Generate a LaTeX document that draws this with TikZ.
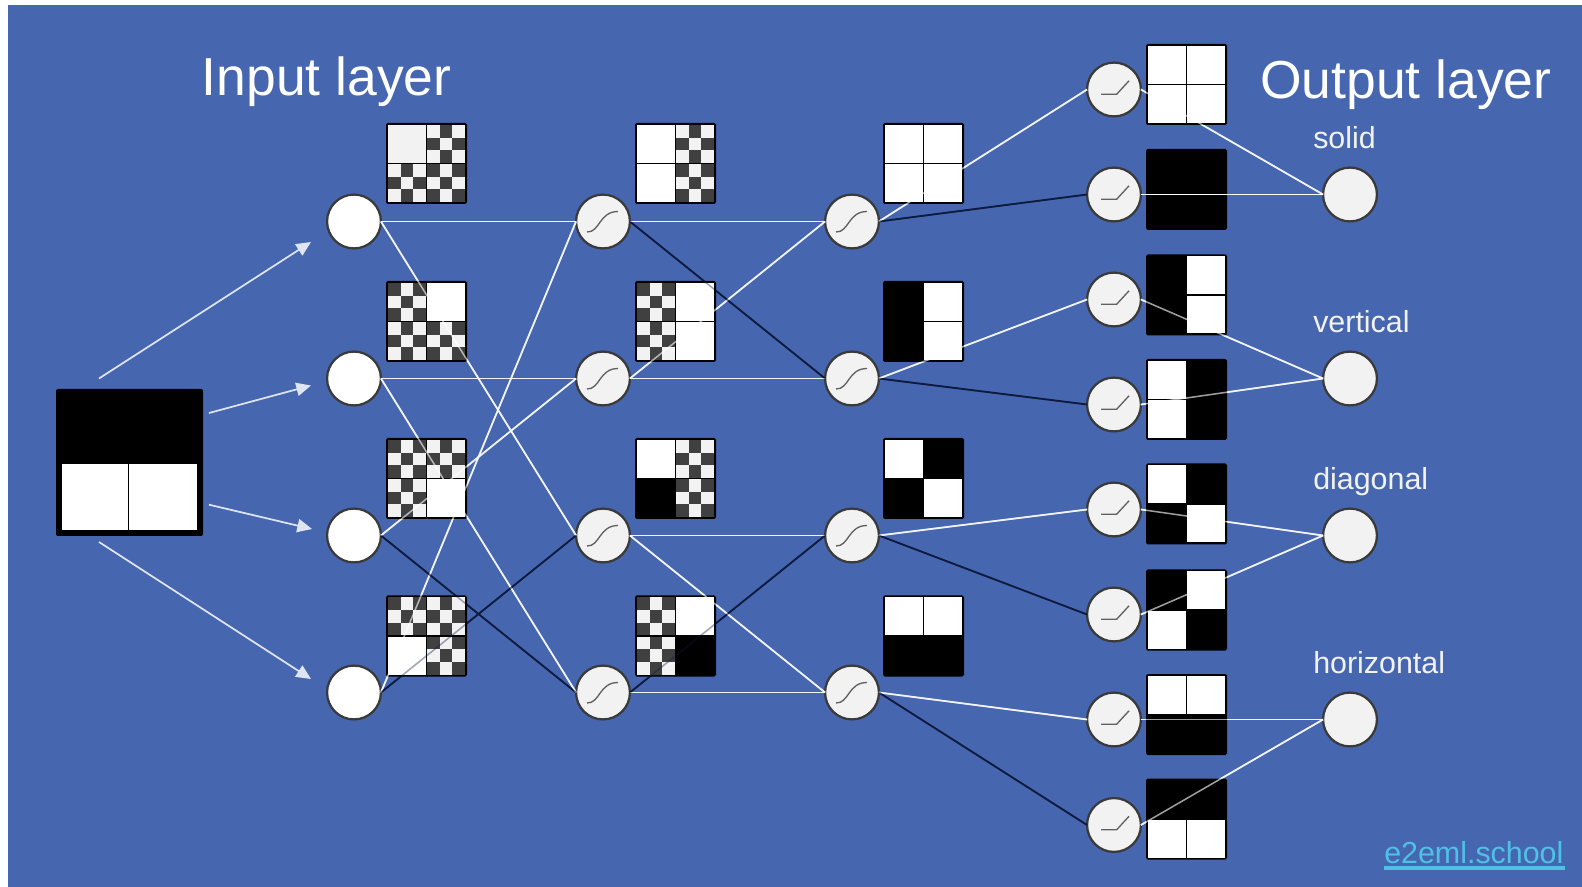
\documentclass[tikz,border=0pt]{standalone}
\usepackage{fontspec}
\setmainfont{Liberation Sans}
\usetikzlibrary{arrows.meta}
\definecolor{bgblue}{HTML}{4667B0}
\definecolor{lite}{HTML}{F2F2F2}
\definecolor{dk}{HTML}{404040}
\definecolor{navy}{HTML}{0E1B3E}
\definecolor{edge}{HTML}{3A3A3A}
\definecolor{linkc}{HTML}{4FC0E6}
\tikzset{
  inputnode/.style={circle,draw=edge,line width=1.7pt,fill=white,minimum size=40.4pt,inner sep=0pt,outer sep=0pt},
  hiddennode/.style={inputnode,fill=lite},
  wline/.style={draw=white!82!bgblue,line width=1.3pt},
  dline/.style={draw=navy,line width=1.35pt},
  wover/.style={draw=white,line width=1.15pt,opacity=.62},
  dover/.style={draw=navy,line width=1.2pt,opacity=.38},
  sym/.style={draw=black!62,line width=1pt},
  arrowline/.style={draw=white!82!bgblue,line width=1.3pt,-{Triangle[length=11pt,width=10pt]}},
  bigtitle/.style={text=white,anchor=base west,inner sep=0pt,font=\fontsize{40.1pt}{44pt}\selectfont},
  smalltitle/.style={text=lite,anchor=base west,inner sep=0pt,font=\fontsize{22.8pt}{26pt}\selectfont},
  linktext/.style={text=linkc,anchor=base west,inner sep=0pt,font=\fontsize{22.8pt}{26pt}\selectfont},
}
\newcommand{\myq}{37.75}
\newcommand{\chk}[3]{%
  \fill[lite] (#1,#2) rectangle ++(\myq,\myq);
  \foreach \r in {0,1,2}{\foreach \c in {0,1,2}{%
    \pgfmathtruncatemacro\myp{mod(\r+\c+#3,2)}%
    \ifnum\myp=1 \fill[dk] ({#1+\c*\myq/3},{#2+\r*\myq/3}) rectangle ++({\myq/3},{\myq/3});\fi
  }}%
}
% quadrant: x, y, code W white, G light, B black, A checker light first, C checker dark first
\newcommand{\quadr}[3]{%
  \if#3W\fill[white] (#1,#2) rectangle ++(\myq,\myq);\fi
  \if#3G\fill[lite] (#1,#2) rectangle ++(\myq,\myq);\fi
  \if#3B\fill[black] (#1,#2) rectangle ++(\myq,\myq);\fi
  \if#3A\chk{#1}{#2}{0}\fi
  \if#3C\chk{#1}{#2}{1}\fi
}
\newcommand{\patch}[6]{%
  \begin{scope}[shift={(#1,#2)}]
    \fill[black,rounded corners=1.2pt] (0,0) rectangle (81,81);
    \quadr{2}{2}{#3}
    \quadr{41.25}{2}{#4}
    \quadr{2}{41.25}{#5}
    \quadr{41.25}{41.25}{#6}
  \end{scope}
}
\newcommand{\wlinks}{I1/H1,I1/H3,I2/H2,I2/H4,I3/H2,I4/H1,H1/J1,H2/J2,H2/J1,H3/J3,H3/J4,H4/J4,J1/K1,J2/K3,J3/K5,J4/K7}
\newcommand{\dlinks}{I3/H4,I4/H3,H1/J2,H4/J3,J1/K2,J2/K4,J3/K6,J4/K8}
\newcommand{\olinks}{K1/O1,K2/O1,K3/O2,K4/O2,K5/O3,K6/O3,K7/O4,K8/O4}
\begin{document}
\begin{tikzpicture}[x=.75pt,y=-.75pt]
\useasboundingbox (0,0) rectangle (1582,887);
\fill[white] (0,0) rectangle (1582,887);
\fill[bgblue] (8,5) rectangle (1582,887);

% circles
\node[inputnode] (I1) at (354,221.5) {};
\node[inputnode] (I2) at (354,378.5) {};
\node[inputnode] (I3) at (354,535.5) {};
\node[inputnode] (I4) at (354,692.5) {};
\node[hiddennode] (H1) at (603,221.5) {};
\node[hiddennode] (H2) at (603,378.5) {};
\node[hiddennode] (H3) at (603,535.5) {};
\node[hiddennode] (H4) at (603,692.5) {};
\node[hiddennode] (J1) at (852,221.5) {};
\node[hiddennode] (J2) at (852,378.5) {};
\node[hiddennode] (J3) at (852,535.5) {};
\node[hiddennode] (J4) at (852,692.5) {};
\node[hiddennode] (K1) at (1114,89.5) {};
\node[hiddennode] (K2) at (1114,194.5) {};
\node[hiddennode] (K3) at (1114,299.5) {};
\node[hiddennode] (K4) at (1114,404.5) {};
\node[hiddennode] (K5) at (1114,509.5) {};
\node[hiddennode] (K6) at (1114,614.5) {};
\node[hiddennode] (K7) at (1114,719.5) {};
\node[hiddennode] (K8) at (1114,825) {};
\node[hiddennode] (O1) at (1350,194.5) {};
\node[hiddennode] (O2) at (1350,378.5) {};
\node[hiddennode] (O3) at (1350,535.5) {};
\node[hiddennode] (O4) at (1350,719.5) {};

% connectors under the patches
\foreach \a/\b in \wlinks {\draw[wline] (\a.east) -- (\b.west);}
\foreach \a/\b in \olinks {\draw[wline] (\a.east) -- (\b.west);}
\foreach \a/\b in \dlinks {\draw[dline] (\a.east) -- (\b.west);}

% patches
\patch{386}{123}{G}{A}{A}{C}
\patch{386}{281}{C}{W}{A}{C}
\patch{386}{438}{C}{A}{A}{W}
\patch{386}{595.5}{C}{A}{W}{C}
\patch{635}{123}{W}{A}{W}{C}
\patch{635}{281}{C}{W}{A}{W}
\patch{635}{438}{W}{A}{B}{C}
\patch{635}{595.5}{C}{W}{A}{B}
\patch{883}{123}{W}{W}{W}{W}
\patch{883}{281}{B}{W}{B}{W}
\patch{883}{438}{W}{B}{B}{W}
\patch{883}{595.5}{W}{W}{B}{B}
\patch{1146}{44}{W}{W}{W}{W}
\patch{1146}{149}{B}{B}{B}{B}
\patch{1146}{254.5}{B}{W}{B}{W}
\patch{1146}{359}{W}{B}{W}{B}
\patch{1146}{463.5}{W}{B}{B}{W}
\patch{1146}{569.5}{B}{W}{W}{B}
\patch{1146}{674}{W}{W}{B}{B}
\patch{1146}{778.5}{B}{B}{W}{W}

% connectors seen faintly across the patches
\foreach \a/\b in \wlinks {\draw[wover] (\a.east) -- (\b.west);}
\foreach \a/\b in \olinks {\draw[wover] (\a.east) -- (\b.west);}
\foreach \a/\b in \dlinks {\draw[dover] (\a.east) -- (\b.west);}
\draw[draw=white,line width=1.15pt] (K2.east) -- (O1.west);

% activation symbols
\foreach \n in {H1,H2,H3,H4,J1,J2,J3,J4}{
  \begin{scope}[shift={(\n.center)}]
    \draw[sym] (-16,10.5) .. controls (-3,11) and (-4,-10) .. (15,-10);
  \end{scope}
}
\foreach \n in {K1,K2,K3,K4,K5,K6,K7,K8}{
  \begin{scope}[shift={(\n.center)}]
    \draw[sym] (-13,4.7) -- (2.7,4.7) -- (15,-8.7);
  \end{scope}
}

% input image
\fill[black,rounded corners=1.5pt] (56,389) rectangle (203,536);
\fill[white] (62.3,464) rectangle (196.7,530);
\draw[black,line width=.9pt] (128.7,464) -- (128.7,530);

% arrows
\coordinate (A1s) at (99,378.5);
\coordinate (A1e) at (311,242);
\coordinate (A2s) at (209,413);
\coordinate (A2e) at (311,385.5);
\coordinate (A3s) at (209,504.7);
\coordinate (A3e) at (312,529);
\coordinate (A4s) at (99,542);
\coordinate (A4e) at (311,679);
\draw[arrowline] (A1s) -- (A1e);
\draw[arrowline] (A2s) -- (A2e);
\draw[arrowline] (A3s) -- (A3e);
\draw[arrowline] (A4s) -- (A4e);

% text
\node[bigtitle] (tin) at (201.5,95.5) {Input layer};
\node[bigtitle] (tout) at (1260,98.5) {Output layer};
\node[smalltitle] (l1) at (1313,148.5) {solid};
\node[smalltitle] (l2) at (1313,332.5) {vertical};
\node[smalltitle] (l3) at (1313,489.5) {diagonal};
\node[smalltitle] (l4) at (1313,673.5) {horizontal};
\node[linktext] (lnk) at (1384,863) {e2eml.school};
\fill[linkc] (1384,866) rectangle (1565,870);
\end{tikzpicture}
\end{document}
